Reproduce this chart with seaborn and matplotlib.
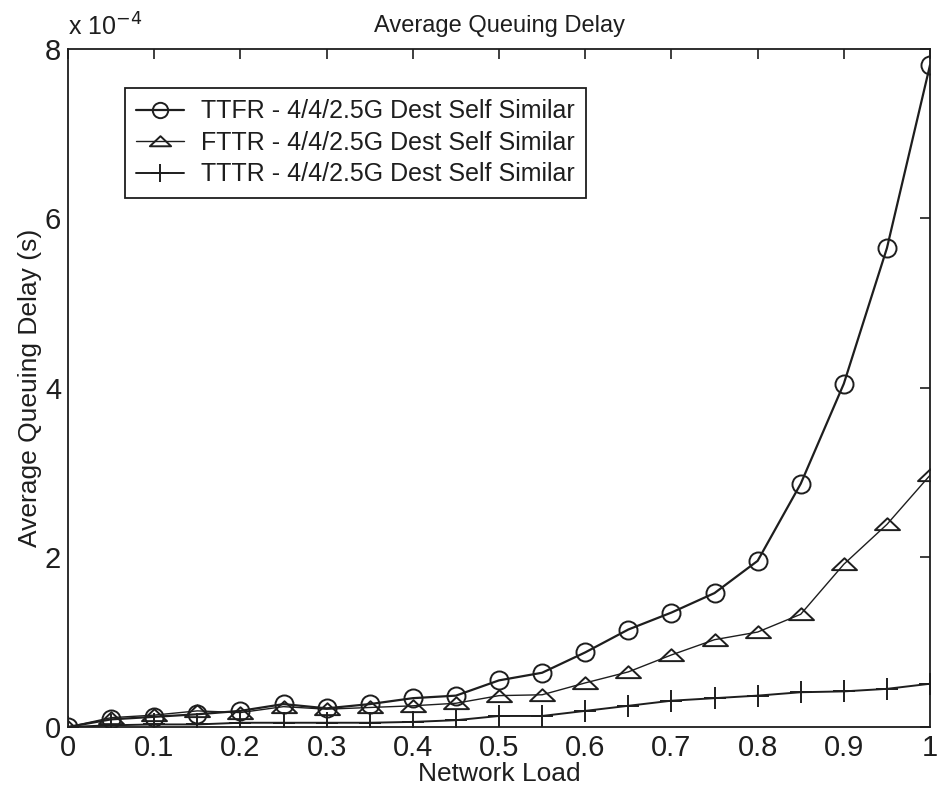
import numpy as np
import pandas as pd
import seaborn as sns
import matplotlib
matplotlib.use("Agg")
import matplotlib.pyplot as plt
from matplotlib.path import Path

# Network load levels
load = [0.0, 0.05, 0.10, 0.15, 0.20, 0.25, 0.30, 0.35, 0.40, 0.45, 0.50,
        0.55, 0.60, 0.65, 0.70, 0.75, 0.80, 0.85, 0.90, 0.95, 1.00]

# Average queuing delay, in units of 1e-4 s
ttfr = [0.00, 0.09, 0.12, 0.15, 0.19, 0.27, 0.22, 0.27, 0.34, 0.37, 0.55,
        0.64, 0.88, 1.15, 1.35, 1.58, 1.96, 2.87, 4.05, 5.65, 7.81]
fttr = [0.00, 0.11, 0.14, 0.19, 0.17, 0.24, 0.21, 0.23, 0.25, 0.28, 0.37,
        0.38, 0.52, 0.65, 0.85, 1.03, 1.12, 1.33, 1.92, 2.39, 2.97]
tttr = [0.00, 0.02, 0.03, 0.03, 0.05, 0.05, 0.05, 0.05, 0.06, 0.08, 0.13,
        0.13, 0.19, 0.25, 0.31, 0.34, 0.37, 0.41, 0.42, 0.45, 0.51]

series_names = ["TTFR - 4/4/2.5G Dest Self Similar",
                "FTTR - 4/4/2.5G Dest Self Similar",
                "TTTR - 4/4/2.5G Dest Self Similar"]

x_ticks = [0, 0.1, 0.2, 0.3, 0.4, 0.5, 0.6, 0.7, 0.8, 0.9, 1]
x_tick_labels = ["0", "0.1", "0.2", "0.3", "0.4", "0.5", "0.6", "0.7", "0.8", "0.9", "1"]
y_ticks = [0, 2, 4, 6, 8]
y_tick_labels = ["0", "2", "4", "6", "8"]

df = pd.DataFrame({
    "load": load * 3,
    "delay": ttfr + fttr + tttr,
    "series": [series_names[0]] * len(load) + [series_names[1]] * len(load)
              + [series_names[2]] * len(load),
})

sns.set_theme(style="white")
plt.rcParams["font.family"] = ["Liberation Sans", "DejaVu Sans"]
ink = "#1e1e1e"
plt.rcParams.update({
    "text.color": ink, "axes.labelcolor": ink,
    "xtick.color": ink, "ytick.color": ink, "axes.edgecolor": ink,
})

fig = plt.figure(figsize=(9.38, 7.94), dpi=100)
ax = fig.add_axes([0.0725, 0.0844, 0.919, 0.854])

# wide, flat triangle like the classic MATLAB marker
tri = Path([(0, 0.5), (-1, -0.45), (1, -0.45), (0, 0.5)],
           [Path.MOVETO, Path.LINETO, Path.LINETO, Path.CLOSEPOLY])

styles = {
    series_names[0]: dict(marker="o", markersize=13, linewidth=1.6,
                          markerfacecolor="none", markeredgewidth=1.4),
    series_names[1]: dict(marker=tri, markersize=18, linewidth=1.0,
                          markerfacecolor="none", markeredgewidth=1.4),
    series_names[2]: dict(marker="+", markersize=16, linewidth=1.4,
                          markeredgewidth=1.4),
}

for name in series_names:
    sub = df[df["series"] == name]
    sns.lineplot(data=sub, x="load", y="delay", ax=ax, color=ink,
                 markeredgecolor=ink, label=name, **styles[name])

ax.set_xlim(0, 1)
ax.set_ylim(0, 8)
ax.set_xticks(x_ticks)
ax.set_xticklabels(x_tick_labels)
ax.set_yticks(y_ticks)
ax.set_yticklabels(y_tick_labels)
ax.tick_params(direction="in", length=7, width=1.2, labelsize=21,
               top=True, right=True, pad=5)
for sp in ax.spines.values():
    sp.set_linewidth(1.3)
    sp.set_color(ink)

ax.set_xlabel("Network Load", fontsize=19, labelpad=0)
ax.set_ylabel("Average Queuing Delay (s)", fontsize=19, labelpad=2)
ax.set_title("Average Queuing Delay", fontsize=17, pad=12)
ax.text(0.0, 1.012, r"x 10$^{-4}$", transform=ax.transAxes, fontsize=18,
        ha="left", va="bottom")

leg = ax.legend(loc="upper left", bbox_to_anchor=(0.066, 0.942),
                borderaxespad=0, fontsize=18, frameon=True, fancybox=False,
                edgecolor=ink, framealpha=1, handlelength=1.9,
                handletextpad=0.7, labelspacing=0.3, borderpad=0.45)
leg.get_frame().set_linewidth(1.3)
for h in leg.legend_handles:
    h.set_markersize(h.get_markersize() * 0.85)

fig.savefig("out.png", dpi=100, facecolor="white")
